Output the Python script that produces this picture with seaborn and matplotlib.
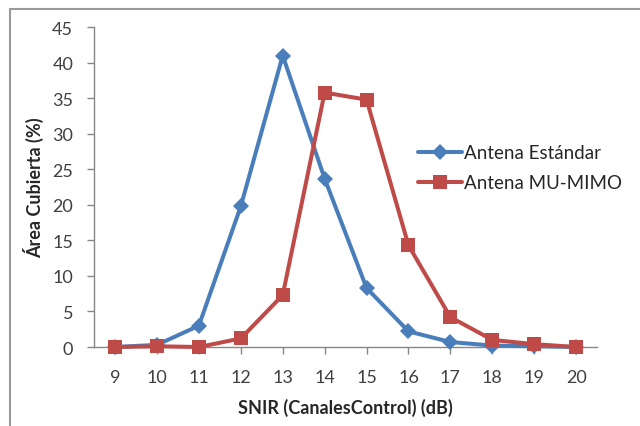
import matplotlib
matplotlib.use("Agg")
import matplotlib.pyplot as plt
import seaborn as sns
import pandas as pd
from matplotlib.lines import Line2D

snir = [9, 10, 11, 12, 13, 14, 15, 16, 17, 18, 19, 20]
estandar = [0.0, 0.3, 3.0, 19.8, 41.0, 23.7, 8.3, 2.2, 0.7, 0.2, 0.1, 0.0]
mumimo = [0.0, 0.1, 0.0, 1.2, 7.3, 35.8, 34.8, 14.3, 4.2, 1.0, 0.4, 0.0]
series_names = ["Antena Estándar", "Antena MU-MIMO"]
yticks = [0, 5, 10, 15, 20, 25, 30, 35, 40, 45]

sns.set_theme(style="white")
plt.rcParams['font.family'] = ['Lato', 'DejaVu Sans']

df = pd.DataFrame({
    "SNIR": snir * 2,
    "val": estandar + mumimo,
    "serie": [series_names[0]] * len(snir) + [series_names[1]] * len(snir),
})

fig = plt.figure(figsize=(6.4, 4.27), dpi=100)
ax = fig.add_axes([0.147, 0.185, 0.786, 0.749])

colors = {"Antena Estándar": "#4A7EBB", "Antena MU-MIMO": "#BE4B48"}
markers = {"Antena Estándar": "D", "Antena MU-MIMO": "s"}
sizes = {"Antena Estándar": 8.5, "Antena MU-MIMO": 10.5}
for name in series_names:
    sub = df[df["serie"] == name]
    sns.lineplot(data=sub, x="SNIR", y="val", ax=ax, color=colors[name],
                 marker=markers[name], markersize=sizes[name], linewidth=2.9,
                 markeredgewidth=0, label=name, clip_on=False, zorder=3)

ax.set_xlim(8.5, 20.5)
ax.set_ylim(0, 45)
ax.set_xticks(snir)
ax.set_yticks(yticks)
ax.tick_params(axis="both", labelsize=13, colors="#404040", length=5,
               width=1, direction="out", bottom=True, left=True)
ax.tick_params(axis="x", pad=11)
ax.tick_params(axis="y", pad=10)
ax.tick_params(axis="both", color="#868686")
for s in ["top", "right"]:
    ax.spines[s].set_visible(False)
for s in ["left", "bottom"]:
    ax.spines[s].set_color("#868686")
    ax.spines[s].set_linewidth(1)

ax.set_xlabel("SNIR (CanalesControl) (dB)", fontsize=13, fontweight="bold",
              color="#262626", labelpad=9)
ax.set_ylabel("Área Cubierta (%)", fontsize=13, fontweight="bold",
              color="#262626", labelpad=6)

leg = ax.legend(loc="center left", bbox_to_anchor=(0.63, 0.56), frameon=False,
                fontsize=13.5, handlelength=2.3, labelspacing=0.7,
                handletextpad=0.15, borderaxespad=0)
for t in leg.get_texts():
    t.set_color("#262626")

fig.add_artist(Line2D([10 / 640, 10 / 640], [0, 1 - 10 / 427],
                      transform=fig.transFigure, color="#9a9a9a", lw=1.5))
fig.add_artist(Line2D([10 / 640, 1], [1 - 10 / 427, 1 - 10 / 427],
                      transform=fig.transFigure, color="#9a9a9a", lw=1.5))

fig.savefig("out.png", dpi=100)
